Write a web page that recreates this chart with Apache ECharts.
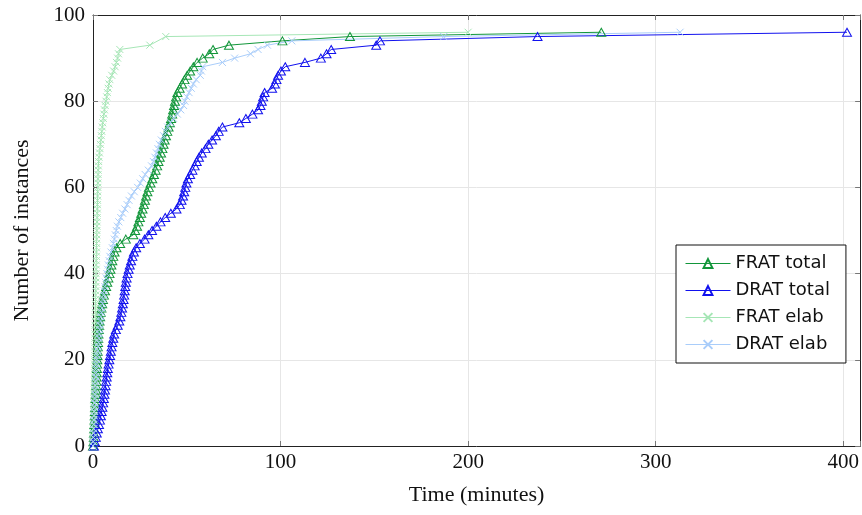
<!DOCTYPE html>
<html>
<head>
<meta charset="utf-8">
<script src="https://cdn.jsdelivr.net/npm/echarts@6/dist/echarts.min.js"></script>
<style>
html,body{margin:0;padding:0;background:#fff;}
#chart{width:862px;height:515px;}
</style>
</head>
<body>
<div id="chart"></div>
<script>
// [time (minutes), number of instances]
const fratTotal = [[0,0],[0.2,1],[0.4,2],[0.5,3],[0.6,4],[0.7,5],[0.8,6],[0.9,7],[1.0,8],[1.1,9],[1.2,10],[1.3,11],[1.5,12],[1.6,13],[1.7,14],[1.8,15],[1.9,16],[2.0,17],[2.1,18],[2.2,19],[2.3,20],[2.4,21],[2.5,22],[2.6,23],[2.7,24],[2.8,25],[2.9,26],[3.1,27],[3.3,28],[3.5,29],[3.8,30],[4.1,31],[4.5,32],[4.9,33],[5.3,34],[5.8,35],[6.4,36],[7.0,37],[7.6,38],[8.2,39],[8.8,40],[9.3,41],[9.8,42],[10.3,43],[10.8,44],[11.5,45],[12.5,46],[14.5,47],[17.5,48],[21.5,49],[22.5,50],[23.5,51],[24.2,52],[25.0,53],[25.7,54],[26.4,55],[27.1,56],[27.7,57],[28.3,58],[29.0,59],[29.8,60],[30.7,61],[31.6,62],[32.5,63],[33.4,64],[34.2,65],[34.9,66],[35.6,67],[36.3,68],[37.0,69],[37.6,70],[38.2,71],[38.9,72],[39.6,73],[40.3,74],[41.0,75],[41.6,76],[42.2,77],[42.7,78],[43.2,79],[43.7,80],[44.3,81],[45.0,82],[46.2,83],[47.5,84],[48.8,85],[50.2,86],[51.8,87],[53.5,88],[55.5,89],[58.5,90],[62.0,91],[64.0,92],[72.5,93],[101,94],[137,95],[271,96]];
const dratTotal = [[0.5,0],[1.0,1],[1.5,2],[2.0,3],[2.6,4],[3.2,5],[3.7,6],[4.2,7],[4.6,8],[5.0,9],[5.4,10],[5.8,11],[6.1,12],[6.4,13],[6.7,14],[7.0,15],[7.3,16],[7.6,17],[7.9,18],[8.3,19],[8.7,20],[9.1,21],[9.5,22],[9.9,23],[10.3,24],[10.8,25],[11.3,26],[12.2,27],[13.2,28],[14.0,29],[14.6,30],[15.1,31],[15.5,32],[15.9,33],[16.3,34],[16.6,35],[16.9,36],[17.2,37],[17.5,38],[17.9,39],[18.4,40],[19.0,41],[19.6,42],[20.3,43],[21.0,44],[21.8,45],[23.0,46],[25.0,47],[27.5,48],[29.5,49],[31.5,50],[33.8,51],[36.0,52],[38.5,53],[41.5,54],[44.5,55],[46.3,56],[47.2,57],[48.0,58],[48.6,59],[49.2,60],[49.8,61],[50.6,62],[51.8,63],[53.0,64],[54.2,65],[55.3,66],[56.5,67],[58.0,68],[60.0,69],[61.5,70],[63.5,71],[65.5,72],[67.0,73],[69.0,74],[78.0,75],[81.5,76],[85.0,77],[88.0,78],[89.3,79],[90.0,80],[90.7,81],[91.5,82],[95.5,83],[97.0,84],[97.8,85],[98.7,86],[100.2,87],[102.5,88],[113,89],[121.5,90],[124.5,91],[127,92],[151,93],[153,94],[237,95],[402,96]];
const fratElab = [[0,0],[0.05,1],[0.1,2],[0.15,3],[0.2,4],[0.25,5],[0.3,6],[0.35,7],[0.4,8],[0.45,9],[0.5,10],[0.55,11],[0.6,12],[0.65,13],[0.7,14],[0.75,15],[0.8,16],[0.82,17],[0.85,18],[0.88,19],[0.9,20],[0.93,21],[0.95,22],[0.98,23],[1.0,24],[1.03,25],[1.06,26],[1.1,27],[1.14,28],[1.18,29],[1.22,30],[1.26,31],[1.3,32],[1.34,33],[1.38,34],[1.42,35],[1.46,36],[1.5,37],[1.54,38],[1.58,39],[1.62,40],[1.66,41],[1.7,42],[1.74,43],[1.78,44],[1.82,45],[1.86,46],[1.9,47],[1.95,48],[2.0,49],[2.05,50],[2.1,51],[2.15,52],[2.2,53],[2.25,54],[2.3,55],[2.35,56],[2.4,57],[2.45,58],[2.5,59],[2.55,60],[2.6,61],[2.65,62],[2.7,63],[2.75,64],[2.85,65],[3.0,66],[3.2,67],[3.45,68],[3.7,69],[3.95,70],[4.2,71],[4.45,72],[4.7,73],[4.95,74],[5.2,75],[5.5,76],[5.8,77],[6.1,78],[6.5,79],[6.9,80],[7.3,81],[7.7,82],[8.1,83],[8.5,84],[9.0,85],[10.0,86],[11.0,87],[11.8,88],[12.5,89],[13.1,90],[13.6,91],[14.3,92],[30.3,93],[38.8,95],[200,96]];
const dratElab = [[0,0],[0.1,1],[0.2,2],[0.3,3],[0.4,4],[0.5,5],[0.6,6],[0.7,7],[0.8,8],[0.9,9],[1.0,10],[1.1,11],[1.2,12],[1.3,13],[1.4,14],[1.5,15],[1.6,16],[1.7,17],[1.8,18],[1.9,19],[2.0,20],[2.3,21],[2.6,22],[2.8,23],[3.0,24],[3.2,25],[3.4,26],[3.6,27],[3.8,28],[4.0,29],[4.2,30],[4.5,31],[4.8,32],[5.1,33],[5.4,34],[5.7,35],[6.0,36],[6.3,37],[6.6,38],[7.0,39],[7.4,40],[7.8,41],[8.2,42],[8.6,43],[9.0,44],[9.6,45],[10.3,46],[10.9,47],[11.4,48],[11.9,49],[12.4,50],[13.0,51],[13.8,52],[14.8,53],[15.8,54],[17.0,55],[18.2,56],[19.2,57],[20.5,58],[22.0,59],[23.8,60],[25.2,61],[26.5,62],[27.8,63],[29.5,64],[31.2,65],[32.2,66],[33.0,67],[33.8,68],[34.6,69],[35.4,70],[36.4,71],[37.6,72],[38.6,73],[39.8,74],[41.3,75],[43.0,76],[45.0,77],[46.8,78],[48.3,79],[49.0,80],[50.0,81],[51.2,82],[52.4,83],[53.5,84],[55.0,85],[57.2,86],[57.8,87],[58.5,88],[69.0,89],[75.5,90],[84.0,91],[88.0,92],[93.0,93],[106.0,94],[187.0,95],[313.0,96]];

const seriesNames = ['FRAT total', 'DRAT total', 'FRAT elab', 'DRAT elab'];
const xTicks = [0, 100, 200, 300, 400];
const yTicks = [0, 20, 40, 60, 80, 100];

const TRI = 'path://M5 0L10 9L0 9Z';
const CROSS = 'path://M0 0L10 10M0 10L10 0';
const SERIF = '"Liberation Serif", "DejaVu Serif", serif';

function mk(name, data, color, symbol, size) {
  const isTri = symbol === TRI;
  return {
    name, type: 'line', data,
    symbol, symbolSize: size,
    showAllSymbol: true,
    lineStyle: { color, width: 1 },
    itemStyle: { color: isTri ? 'rgba(255,255,255,0)' : color, borderColor: color, borderWidth: 1 },
    emphasis: { disabled: true },
    animation: false
  };
}

const chart = echarts.init(document.getElementById('chart'), null, { renderer: 'canvas' });
const axisBase = {
  type: 'value',
  axisLine: { show: true, onZero: false, lineStyle: { color: '#222', width: 1 } },
  axisTick: { show: true, inside: true, length: 5, lineStyle: { color: '#777' } },
  splitLine: { show: false }
};
chart.setOption({
  animation: false,
  backgroundColor: '#fff',
  grid: { left: 93, right: 1, top: 15, bottom: 69 },
  xAxis: [
    Object.assign({}, axisBase, {
      min: 0, max: 409, interval: 100, position: 'bottom',
      name: 'Time (minutes)', nameLocation: 'middle', nameGap: 38,
      nameTextStyle: { fontFamily: SERIF, fontSize: 22, color: '#111' },
      axisLabel: { show: true, fontFamily: SERIF, fontSize: 21, color: '#111', margin: 6,
        customValues: xTicks },
      splitLine: { show: true, lineStyle: { color: '#e6e6e6', width: 1 } }
    }),
    Object.assign({}, axisBase, { min: 0, max: 409, interval: 100, position: 'top', axisLabel: { show: false } })
  ],
  yAxis: [
    Object.assign({}, axisBase, {
      min: 0, max: 100, interval: 20, position: 'left',
      name: 'Number of instances', nameLocation: 'middle', nameGap: 60,
      nameTextStyle: { fontFamily: SERIF, fontSize: 22, color: '#111' },
      axisLabel: { show: true, fontFamily: SERIF, fontSize: 21, color: '#111', margin: 8,
        customValues: yTicks },
      splitLine: { show: true, lineStyle: { color: '#e6e6e6', width: 1 } }
    }),
    Object.assign({}, axisBase, { min: 0, max: 100, interval: 20, position: 'right', axisLabel: { show: false } })
  ],
  legend: {
    data: seriesNames,
    orient: 'vertical',
    left: 676, top: 245,
    itemWidth: 45, itemHeight: 11, itemGap: 8,
    padding: [9, 16, 9, 9],
    borderColor: '#111', borderWidth: 1,
    backgroundColor: '#fff',
    lineStyle: { width: 1 },
    textStyle: { fontFamily: '"DejaVu Sans", sans-serif', fontSize: 18, color: '#111', lineHeight: 19 },
    selectedMode: false
  },
  series: [
    mk(seriesNames[0], fratTotal, '#12963a', TRI, [9, 8]),
    mk(seriesNames[1], dratTotal, '#1111ee', TRI, [9, 8]),
    mk(seriesNames[2], fratElab, '#a6e6b6', CROSS, [7, 7]),
    mk(seriesNames[3], dratElab, '#a9cdfa', CROSS, [7, 7])
  ]
});
</script>
</body>
</html>
